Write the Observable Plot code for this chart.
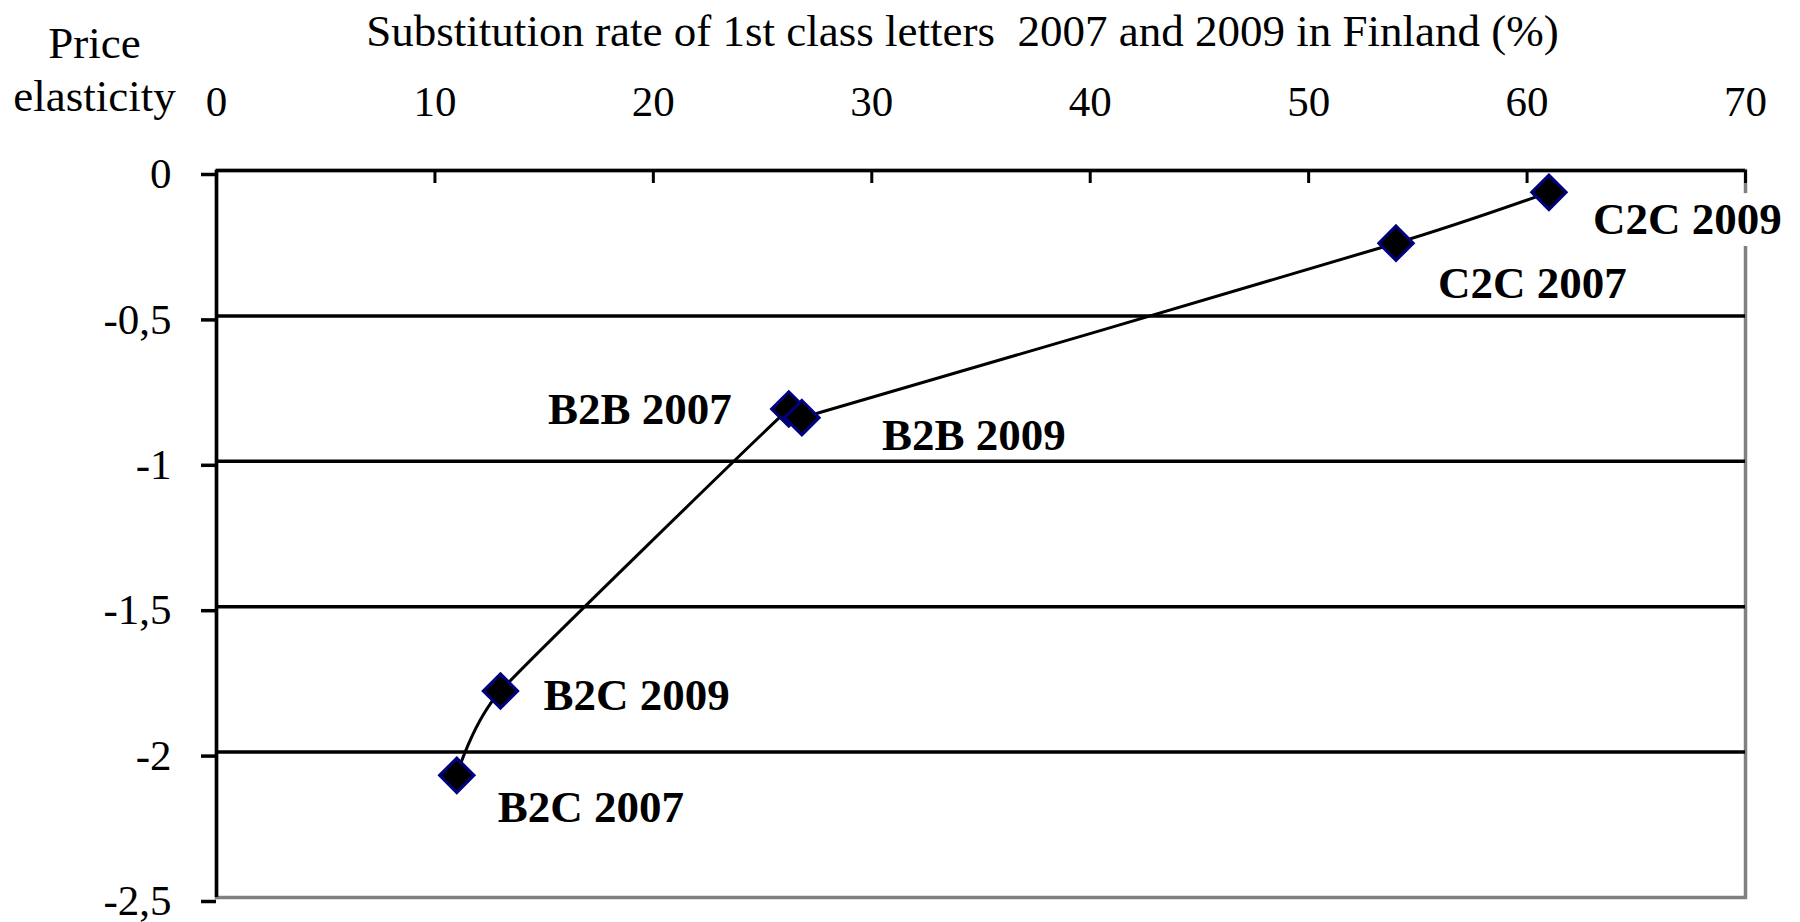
<!DOCTYPE html>
<html>
<head>
<meta charset="utf-8">
<script src="https://cdn.jsdelivr.net/npm/d3@7"></script>
<script src="https://cdn.jsdelivr.net/npm/@observablehq/plot@0.6"></script>
<style>
  html, body { margin: 0; padding: 0; background: white; }
</style>
</head>
<body>
<div id="chart"></div>
<script>
// ---- data ----
const names = ["B2C 2007", "B2C 2009", "B2B 2007", "B2B 2009", "C2C 2007", "C2C 2009"];
const substitution = [11, 13, 26.2, 26.8, 54, 61];          // % substitution rate
const elasticity = [-2.08, -1.79, -0.82, -0.85, -0.25, -0.075]; // price elasticity
const xTicks = [0, 10, 20, 30, 40, 50, 60, 70];
const yTicks = [0, -0.5, -1, -1.5, -2, -2.5];
const xTitle = "Substitution rate of 1st class letters  2007 and 2009 in Finland (%)";
const yTitleLines = ["Price", "elasticity"];

const data = names.map((name, i) => ({name, x: substitution[i], y: elasticity[i]}));

// ---- layout / style ----
const W = 1800, H = 922;
const M = {top: 170, right: 55, bottom: 25, left: 216};
const plotH = H - M.top - M.bottom;
const serif = '"Liberation Serif", "Times New Roman", serif';

const labelLayout = {
  "B2C 2007": {dx: 41, dy: 32, textAnchor: "start"},
  "B2C 2009": {dx: 43, dy: 5, textAnchor: "start"},
  "B2B 2007": {dx: -57, dy: 1, textAnchor: "end"},
  "B2B 2009": {dx: 80, dy: 18, textAnchor: "start"},
  "C2C 2007": {dx: 42, dy: 40, textAnchor: "start"},
  "C2C 2009": {dx: 44, dy: 27, textAnchor: "start", stroke: "white", strokeWidth: 24}
};

const fmtY = d => String(d).replace(".", ",");

const labelMarks = names.map(n => Plot.text(data.filter(d => d.name === n), {
  x: "x", y: "y", text: "name",
  fontWeight: "bold", fontSize: 45, lineAnchor: "middle",
  fill: "black", strokeLinejoin: "round",
  ...labelLayout[n]
}));

const chart = Plot.plot({
  width: W, height: H,
  marginTop: M.top, marginRight: M.right, marginBottom: M.bottom, marginLeft: M.left,
  style: {fontFamily: serif, fontSize: "43px", background: "white", color: "black", overflow: "visible"},
  x: {domain: [0, 70]},
  y: {domain: [-2.5, 0]},
  marks: [
    Plot.frame({stroke: "#808080", strokeWidth: 3.5}),
    Plot.ruleY(yTicks.filter(d => d > -2.5), {stroke: "black", strokeWidth: 3.5}),
    Plot.ruleX([0], {stroke: "black", strokeWidth: 3.5}),
    Plot.tickX(xTicks.slice(1), {x: d => d, insetBottom: plotH - 13, stroke: "black", strokeWidth: 3}),
    Plot.axisX({anchor: "top", ticks: xTicks, tickSize: 0, tickPadding: 55, label: null, fontSize: 43}),
    Plot.axisY({ticks: yTicks, tickSize: 15, tickPadding: 30, tickFormat: fmtY, label: null,
                strokeWidth: 3.5, dy: 4, fontSize: 43}),
    Plot.line(data, {x: "x", y: "y", curve: "cardinal", tension: 0.5, stroke: "black", strokeWidth: 3}),
    Plot.dot(data, {x: "x", y: "y", symbol: "diamond2", r: 15.5, fill: "black", stroke: "#000080", strokeWidth: 3}),
    ...labelMarks,
    Plot.text([xTitle], {text: d => d, frameAnchor: "top-left", dx: 962 - M.left, dy: 45 - M.top,
                         textAnchor: "middle", lineAnchor: "bottom", fontSize: 45}),
    Plot.text([yTitleLines[0]], {text: d => d, frameAnchor: "top-left", dx: 94 - M.left, dy: 57 - M.top,
                         textAnchor: "middle", lineAnchor: "bottom", fontSize: 45}),
    Plot.text([yTitleLines[1]], {text: d => d, frameAnchor: "top-left", dx: 94 - M.left, dy: 110 - M.top,
                         textAnchor: "middle", lineAnchor: "bottom", fontSize: 45})
  ]
});

document.getElementById("chart").appendChild(chart);
</script>
</body>
</html>
